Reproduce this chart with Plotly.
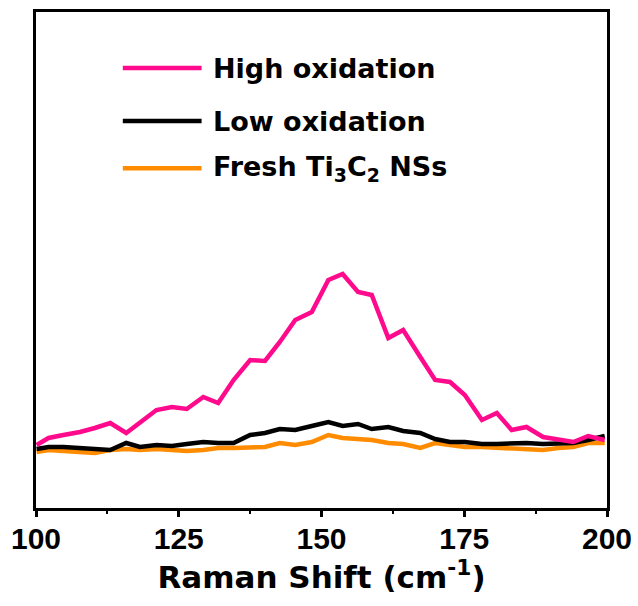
import plotly.graph_objects as go

# Raman shift positions (cm^-1)
shift = [100.1, 102.2, 104.8, 107.7, 110.3, 113.0, 115.8, 118.2, 121.1, 123.8,
         126.4, 129.3, 131.9, 134.6, 137.5, 140.1, 142.7, 145.4, 148.3, 151.2,
         153.7, 156.4, 158.8, 161.7, 164.3, 167.3, 169.9, 172.5, 175.1, 178.1,
         180.7, 183.3, 185.9, 188.8, 191.5, 194.1, 196.7, 199.6]

# Intensities (a.u.)
high_ox = [63, 70, 73, 76, 80, 85, 75, 85, 98, 101,
           99, 111, 105, 128, 148, 147, 166, 188, 196, 228,
           234, 216, 213, 170, 178, 151, 128, 126, 113, 88,
           95, 78, 81, 71, 69, 66, 72, 68]
low_ox = [59, 61, 61, 60, 60, 58, 65, 61, 63, 62,
          64, 66, 65, 65, 73, 75, 79, 78, 82, 86,
          82, 84, 79, 81, 77, 75, 69, 66, 66, 64,
          64, 65, 65, 64, 64, 65, 68, 72]
fresh = [56, 58, 57, 56, 55, 58, 59, 58, 59, 58,
         57, 58, 60, 60, 61, 61, 65, 63, 66, 73,
         70, 69, 68, 65, 64, 60, 65, 63, 61, 61,
         60, 60, 59, 58, 60, 61, 65, 65]

series_names = ["High oxidation", "Low oxidation", "Fresh Ti<sub>3</sub>C<sub>2</sub> NSs"]
series_colors = ["#FF0A8C", "#000000", "#FF8C00"]

x_ticks = [100, 125, 150, 175, 200]

fig = go.Figure()
# draw fresh first so oxidised curves sit on top
for ys, col in [(fresh, series_colors[2]), (low_ox, series_colors[1]), (high_ox, series_colors[0])]:
    fig.add_trace(go.Scatter(x=shift, y=ys, mode="lines",
                             line=dict(color=col, width=4.5), showlegend=False))

# hand-placed legend: short line sample + bold label
legend_y = [0.887, 0.78, 0.685]
for name, col, ly in zip(series_names, series_colors, legend_y):
    fig.add_shape(type="line", xref="paper", yref="paper",
                  x0=0.152, x1=0.29, y0=ly, y1=ly,
                  line=dict(color=col, width=4.5))
    fig.add_annotation(xref="paper", yref="paper", x=0.306, y=ly,
                       xanchor="left", yanchor="middle", showarrow=False,
                       text=name,
                       font=dict(family="DejaVu Sans", size=27, color="black", weight="bold"))

fig.update_layout(
    width=638, height=606,
    margin=dict(l=36, r=31, t=12, b=98),
    plot_bgcolor="white", paper_bgcolor="white",
    xaxis=dict(range=[100, 200], tickvals=x_ticks, automargin=False,
               ticks="outside", ticklen=6, tickwidth=3, tickcolor="black",
               ticklabelstandoff=-4,
               minor=dict(dtick=12.5, tick0=100, ticks="outside", ticklen=3, tickwidth=2, tickcolor="black"),
               showline=True, linewidth=3, linecolor="black", mirror=True,
               showgrid=False, zeroline=False,
               tickfont=dict(family="Liberation Sans", size=30, color="black", weight="bold"),
               title=dict(text="Raman Shift (cm<sup>-1</sup>)", standoff=5,
                          font=dict(family="DejaVu Sans", size=31, color="black", weight="bold"))),
    yaxis=dict(range=[0, 496], showticklabels=False, ticks="", automargin=False,
               showline=True, linewidth=3, linecolor="black", mirror=True,
               showgrid=False, zeroline=False),
)

fig.write_html("out.html")
